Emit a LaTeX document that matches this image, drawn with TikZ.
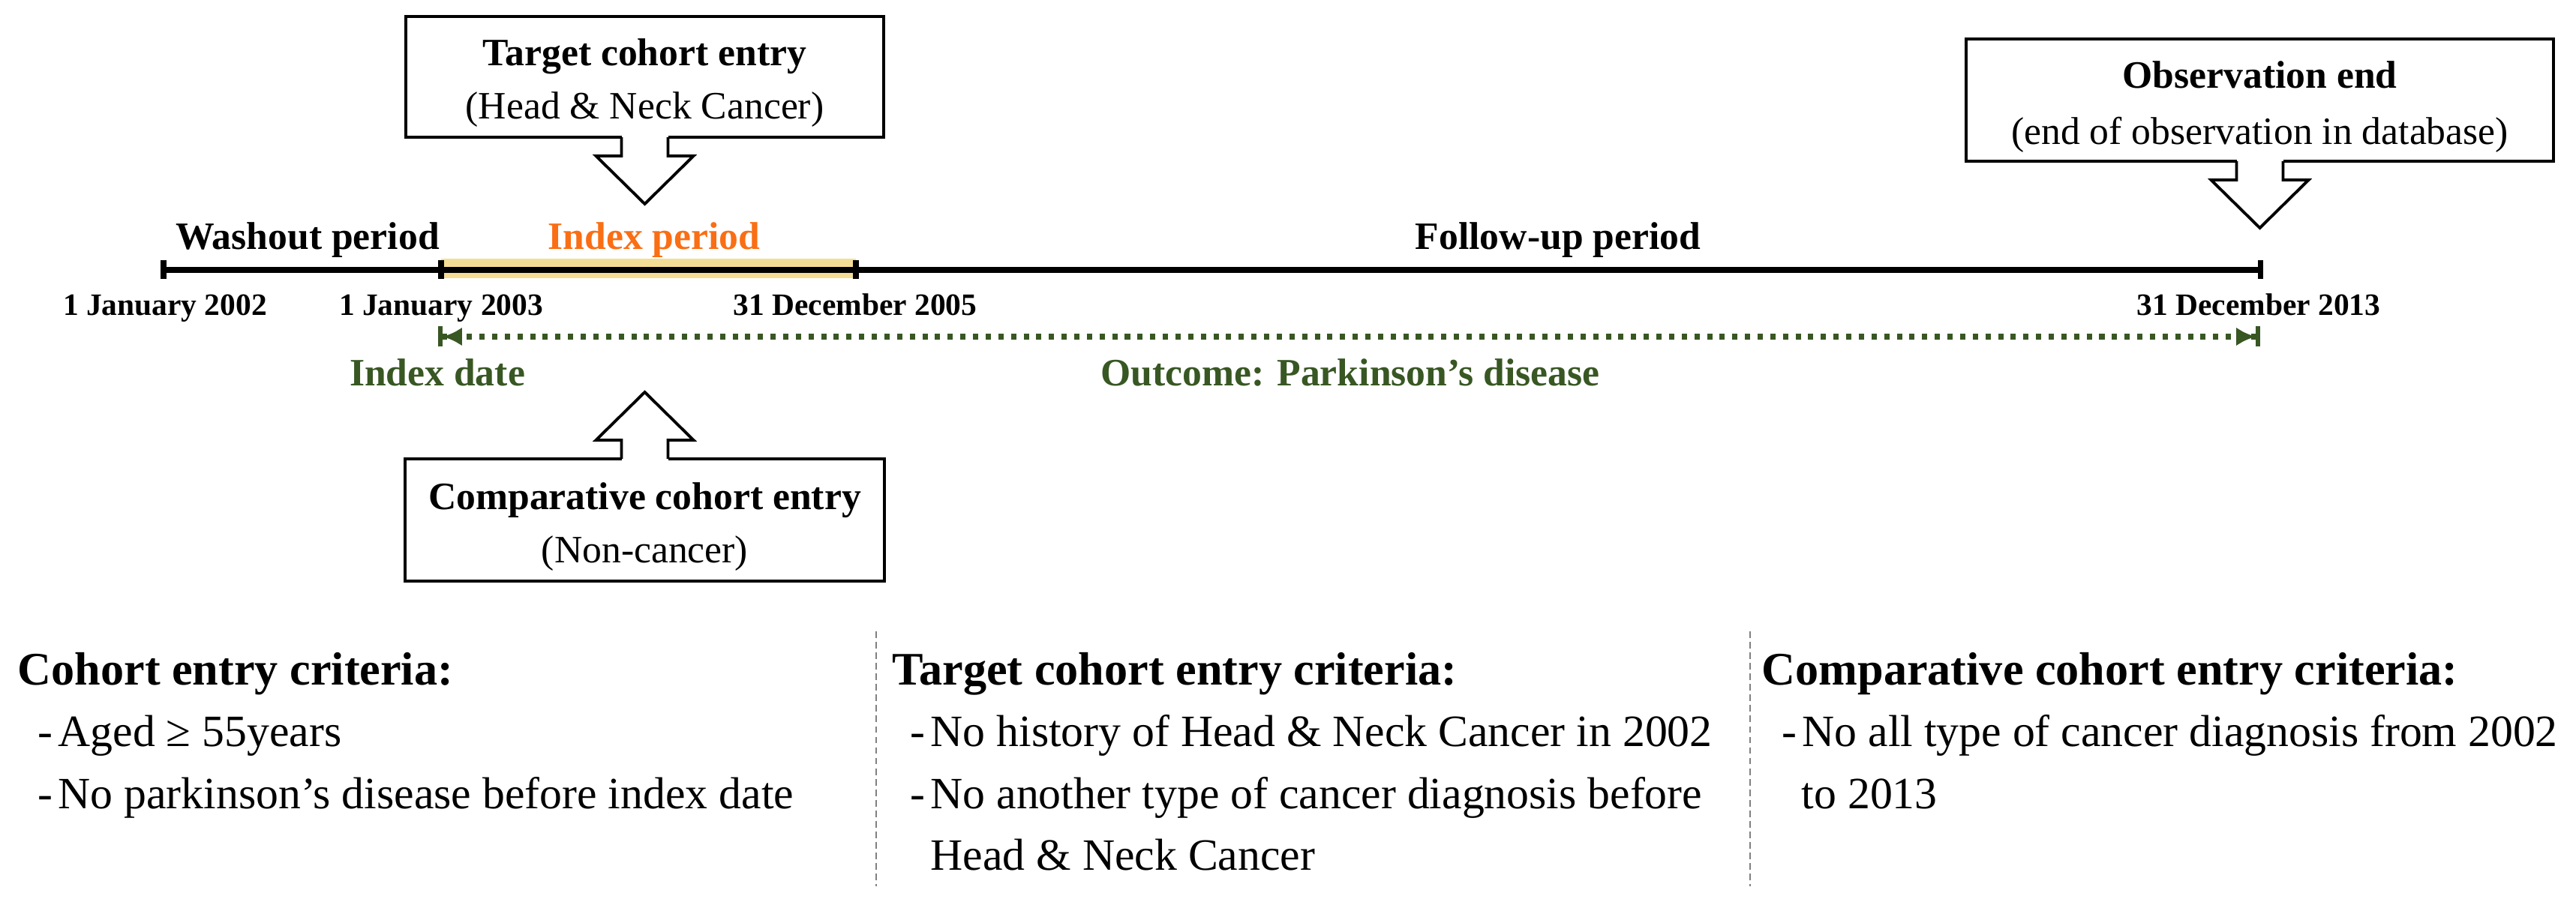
\documentclass[tikz,border=0pt]{standalone}
\usepackage{fontspec}
\setmainfont{Liberation Serif}
\usetikzlibrary{calc,arrows.meta}
\definecolor{dgreen}{RGB}{56,87,35}
\definecolor{iorange}{RGB}{250,110,20}
\definecolor{hlite}{RGB}{244,222,150}
\begin{document}
\begin{tikzpicture}[
 cbox/.style={draw, line width=1.3pt, outer sep=0pt, inner sep=0pt, fill=white},
 btext/.style={inner sep=0pt, align=center, font=\fontsize{14.7}{20}\selectfont},
 tline/.style={line width=2.3pt},
 tick/.style={line width=2pt},
 period/.style={font=\fontsize{14.7}{18}\selectfont\bfseries, anchor=base},
 datel/.style={font=\fontsize{11.8}{14}\selectfont\bfseries, anchor=base},
 glabel/.style={font=\fontsize{14.7}{18}\selectfont\bfseries, text=dgreen, anchor=base},
 crithead/.style={font=\fontsize{17.7}{21}\selectfont\bfseries, anchor=base west, inner sep=0pt},
 critline/.style={font=\fontsize{17}{21}\selectfont, anchor=base west, inner sep=0pt},
 sepline/.style={gray, line width=0.6pt, dash pattern=on 2.5pt off 1.5pt},
 outc/.style={dgreen, line width=2.2pt, dash pattern=on 2pt off 2.8pt,
   arrows={{Bar[width=2.7mm,line width=1.7pt,sep=0pt]Latex[length=2.6mm,width=2.5mm,sep=0pt]}-{Latex[length=2.6mm,width=2.5mm,sep=0pt]Bar[width=2.7mm,line width=1.7pt,sep=0pt]}}},
 callarrow/.pic={
   \fill[white] (-0.31,0.035) rectangle (0.31,-0.26);
   \filldraw[fill=white, draw=black, line width=1.1pt]
     (-0.31,0) -- (-0.31,-0.25) -- (-0.65,-0.25) -- (0,-0.89)
     -- (0.65,-0.25) -- (0.31,-0.25) -- (0.31,0);
 },
]
\useasboundingbox (0,0) rectangle (34.34,-12.07);

% boxes
\node[cbox, minimum width=6.37cm, minimum height=1.61cm] (tgt) at (8.595,-1.025) {};
\node[btext] (tgtt) at ($(tgt.center)+(0,-0.08)$)
  {\textbf{Target cohort entry}\\(Head \& Neck Cancer)};
\node[cbox, minimum width=7.83cm, minimum height=1.63cm] (obs) at (30.125,-1.335) {};
\node[btext, font=\fontsize{14.7}{21.5}\selectfont] (obst) at ($(obs.center)+(0,-0.09)$)
  {\textbf{Observation end}\\(end of observation in database)};
\node[cbox, minimum width=6.39cm, minimum height=1.63cm] (cmp) at (8.595,-6.935) {};
\node[btext] (cmpt) at ($(cmp.center)+(0,-0.09)$)
  {\textbf{Comparative cohort entry}\\(Non-cancer)};
\pic at (tgt.south) {callarrow};
\pic at (obs.south) {callarrow};
\pic[rotate=180] at (cmp.north) {callarrow};

% timeline
\coordinate (t0) at (2.18,-3.60);
\coordinate (t1) at (5.88,-3.60);
\coordinate (t2) at (11.41,-3.60);
\coordinate (t3) at (30.13,-3.60);
\fill[hlite] ($(t1)+(0,0.15)$) rectangle ($(t2)+(0,-0.11)$);
\draw[tline] (t0) -- (t3);
\foreach \c in {t0,t1,t2,t3} \draw[tick] ($(\c)+(0,0.125)$) -- ($(\c)+(0,-0.125)$);

\node[period] (wash) at (4.10,-3.33) {Washout period};
\node[period, text=iorange] (idxp) at (8.72,-3.33) {Index period};
\node[period] (fup) at (20.77,-3.33) {Follow-up period};
\node[datel] (d0) at (2.20,-4.21) {1 January 2002};
\node[datel] (d1) at (5.88,-4.21) {1 January 2003};
\node[datel] (d2) at (11.40,-4.21) {31 December 2005};
\node[datel] (d3) at (30.11,-4.21) {31 December 2013};

% outcome
\coordinate (o0) at (5.84,-4.49);
\coordinate (o1) at (30.13,-4.49);
\draw[outc] (o0) -- (o1);
\node[glabel] (idate) at (5.83,-5.15) {Index date};
\node[glabel] (outlab) at (18.0,-5.15) {Outcome: Parkinson’s disease};

% separators
\coordinate (s1a) at (11.68,-8.42); \coordinate (s1b) at (11.68,-11.82);
\coordinate (s2a) at (23.33,-8.42); \coordinate (s2b) at (23.33,-11.82);
\draw[sepline] (s1a) -- (s1b);
\draw[sepline] (s2a) -- (s2b);

% criteria
\node[crithead] (h1) at (0.23,-9.13) {Cohort entry criteria:};
\node[critline] (a1) at (0.50,-9.95) {-\kern2pt Aged ≥ 55years};
\node[critline] (a2) at (0.50,-10.78) {-\kern2pt No parkinson’s disease before index date};
\node[crithead] (h2) at (11.89,-9.13) {Target cohort entry criteria:};
\node[critline] (b1) at (12.13,-9.95) {-\kern2pt No history of Head \& Neck Cancer in 2002};
\node[critline] (b2) at (12.13,-10.78) {-\kern2pt No another type of cancer diagnosis before};
\node[critline] (b3) at (12.40,-11.60) {Head \& Neck Cancer};
\node[crithead] (h3) at (23.48,-9.13) {Comparative cohort entry criteria:};
\node[critline] (c1) at (23.75,-9.95) {-\kern2pt No all type of cancer diagnosis from 2002};
\node[critline] (c2) at (24.01,-10.78) {to 2013};
\end{tikzpicture}
\end{document}
